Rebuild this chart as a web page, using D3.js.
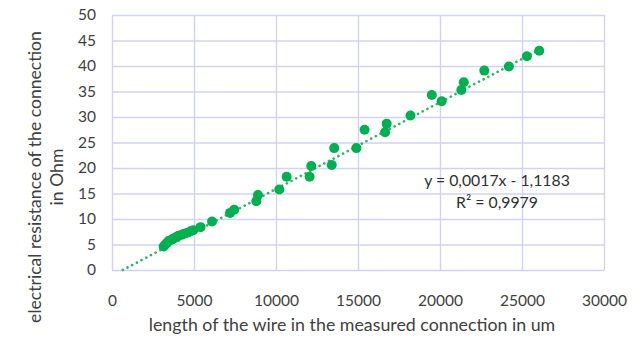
<!DOCTYPE html>
<html>
<head>
<meta charset="utf-8">
<script src="https://cdn.jsdelivr.net/npm/d3@7"></script>
<style>
  body { margin: 0; background: #fff; }
  svg text { font-family: Lato, "Open Sans", sans-serif; fill: #404040; }
</style>
</head>
<body>
<div id="graphic"></div>
<script>
// Data
const lengthUm = [3150, 3250, 3350, 3450, 3600, 3750, 3900, 4050, 4250, 4400, 4600, 4800, 4950,
  5400, 6100, 7200, 7450, 8800, 8900, 10200, 10650, 12050, 12150, 13400, 13550, 14900, 15400,
  16650, 16750, 18200, 19500, 20100, 21300, 21450, 22700, 24200, 25300, 26050];
const resistanceOhm = [4.6, 5.0, 5.3, 5.7, 5.9, 6.2, 6.4, 6.7, 6.9, 7.1, 7.3, 7.6, 7.8,
  8.4, 9.5, 11.2, 11.8, 13.5, 14.7, 15.8, 18.3, 18.3, 20.4, 20.6, 23.9, 23.9, 27.5,
  27.0, 28.7, 30.3, 34.3, 33.1, 35.3, 36.8, 39.1, 39.9, 41.9, 43.0];
const xTicks = [0, 5000, 10000, 15000, 20000, 25000, 30000];
const yTicks = [0, 5, 10, 15, 20, 25, 30, 35, 40, 45, 50];
const trendSlope = 0.0017, trendIntercept = -1.1183;
const equationLines = ["y = 0,0017x - 1,1183", "R² = 0,9979"];

const width = 632, height = 337;
const margin = {top: 15, right: 28, bottom: 67, left: 112};

const svg = d3.select("#graphic").append("svg")
  .attr("width", width).attr("height", height);

const x = d3.scaleLinear().domain([0, 30000]).range([margin.left, width - margin.right]);
const y = d3.scaleLinear().domain([0, 50]).range([height - margin.bottom, margin.top]);

const grid = "#d2d2f6";

// grille verticale
svg.append("g")
  .attr("transform", `translate(0,${margin.top})`)
  .call(d3.axisBottom(x).tickValues(xTicks).tickSize(height - margin.bottom - margin.top).tickFormat(""))
  .call(g => g.select(".domain").remove())
  .call(g => g.selectAll("line").attr("stroke", grid).attr("stroke-width", 1.4));

// grille horizontale
svg.append("g")
  .attr("transform", `translate(${margin.left},0)`)
  .call(d3.axisRight(y).tickValues(yTicks).tickSize(width - margin.right - margin.left).tickFormat(""))
  .call(g => g.select(".domain").remove())
  .call(g => g.selectAll("line").attr("stroke", grid).attr("stroke-width", 1.4));

// étiquettes des axes
svg.append("g")
  .attr("transform", `translate(0,${height - margin.bottom})`)
  .call(d3.axisBottom(x).tickValues(xTicks).tickSize(0).tickPadding(25).tickFormat(d3.format("d")))
  .call(g => g.select(".domain").remove())
  .call(g => g.selectAll("text").attr("font-size", 15.5).style("fill", "#404040"));

svg.append("g")
  .attr("transform", `translate(${margin.left},0)`)
  .call(d3.axisLeft(y).tickValues(yTicks).tickSize(0).tickPadding(16))
  .call(g => g.select(".domain").remove())
  .call(g => g.selectAll("text").attr("font-size", 15.5).style("fill", "#404040"));

// courbe de tendance
const trendX = [-trendIntercept / trendSlope, d3.max(lengthUm)];
svg.append("path")
  .datum(trendX)
  .attr("d", d3.line().x(d => x(d)).y(d => y(trendSlope * d + trendIntercept)))
  .attr("fill", "none")
  .attr("stroke", "#2fb35f")
  .attr("stroke-width", 2.6)
  .attr("stroke-linecap", "round")
  .attr("stroke-dasharray", "0.1 5.2");

// points
svg.append("g").selectAll("circle")
  .data(d3.range(lengthUm.length))
  .enter().append("circle")
  .attr("cx", i => x(lengthUm[i]))
  .attr("cy", i => y(resistanceOhm[i]))
  .attr("r", 5)
  .attr("fill", "#00b050");

// équation
svg.append("g").selectAll("text")
  .data(equationLines)
  .enter().append("text")
  .attr("x", 497)
  .attr("y", (d, i) => 186 + i * 22)
  .attr("text-anchor", "middle")
  .attr("font-size", 15.8)
  .style("fill", "#303030")
  .text(d => d);

// titres des axes
svg.append("text")
  .attr("x", (margin.left + width - margin.right) / 2 - 6)
  .attr("y", 331)
  .attr("text-anchor", "middle")
  .attr("font-size", 17.8)
  .text("length of the wire in the measured connection in um");

const yTitle = svg.append("text")
  .attr("transform", "translate(41,177) rotate(-90)")
  .attr("text-anchor", "middle")
  .attr("font-size", 17.6);
yTitle.append("tspan").attr("x", 0).attr("dy", 0).text("electrical resistance of the connection");
yTitle.append("tspan").attr("x", 0).attr("dy", 22).text("in Ohm");
</script>
</body>
</html>
